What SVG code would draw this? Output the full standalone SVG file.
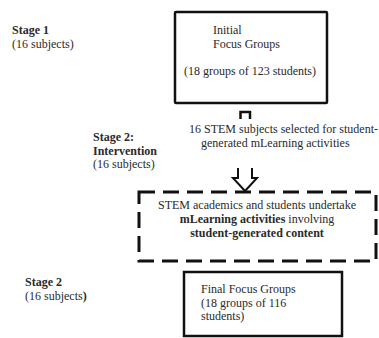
<svg xmlns="http://www.w3.org/2000/svg" width="379" height="338" viewBox="0 0 379 338">
<style>
text{font-family:"Liberation Serif","Times New Roman",serif;font-size:12px;fill:#2a2a2a}
.b{font-weight:bold}
.box{fill:#fff;stroke:#111;stroke-width:2.5}
.dash{fill:none;stroke:#111;stroke-width:3;stroke-dasharray:16 8}
.conn{fill:#fff;stroke:#111;stroke-width:2}
</style>
<rect width="379" height="338" fill="#fff"/>
<g id="stage1-label">
<text x="12" y="34" class="b">Stage 1</text>
<text x="12" y="48">(16 subjects)</text>
</g>
<g id="initial-focus-groups">
<rect class="box" x="175" y="12" width="152" height="91" rx="1"/>
<text x="213" y="34">Initial</text>
<text x="213" y="48">Focus Groups</text>
<text x="184" y="75">(18 groups of 123 students)</text>
</g>
<g id="stage2-label">
<text x="93" y="141" class="b">Stage 2:</text>
<text x="93" y="155" class="b">Intervention</text>
<text x="93" y="168">(16 subjects)</text>
</g>
<g id="stem-selection">
<text x="189" y="133">16 STEM subjects selected for student-</text>
<text x="201" y="147">generated mLearning activities</text>
</g>
<g id="connectors">
<path class="conn" d="M240.5 119 V112 H250 V119" fill="none" style="fill:none;stroke-width:2.5"/>
<path class="conn" d="M238 168 V178 H233 L245 191 L257 178 H252 V168"/>
</g>
<g id="mlearning-activities">
<rect class="dash" x="139" y="192" width="237" height="69"/>
<text x="257" y="209" text-anchor="middle">STEM academics and students undertake</text>
<text x="257" y="223" text-anchor="middle"><tspan class="b">mLearning activities</tspan> involving</text>
<text x="257" y="237" text-anchor="middle" class="b">student-generated content</text>
</g>
<g id="stage2-final-label">
<text x="25" y="286" class="b">Stage 2</text>
<text x="25" y="300">(16 subjects<tspan class="b">)</tspan></text>
</g>
<g id="final-focus-groups">
<rect class="box" x="184" y="272" width="158" height="64"/>
<text x="201" y="293">Final Focus Groups</text>
<text x="201" y="307">(18 groups of 116</text>
<text x="201" y="320">students)</text>
</g>
</svg>
